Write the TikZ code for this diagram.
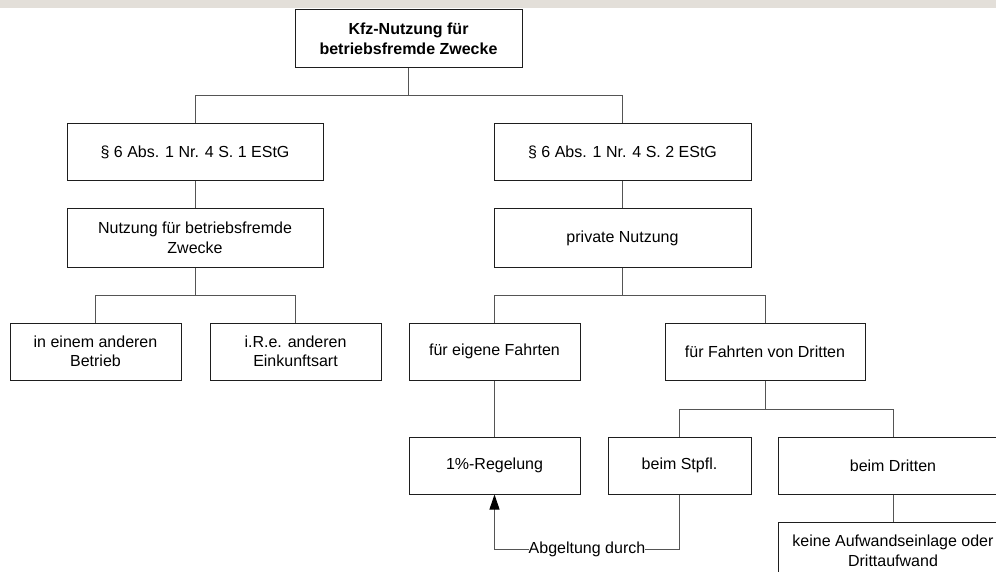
\documentclass[tikz,border=0pt]{standalone}
\usepackage{fontspec}
\setmainfont{Liberation Sans}
\usetikzlibrary{arrows.meta}
\definecolor{band}{RGB}{227,223,217}
\definecolor{boxline}{RGB}{30,30,30}
\definecolor{conline}{RGB}{85,85,85}
\begin{document}
\begin{tikzpicture}[x=1pt,y=-1pt,
  box/.style={draw=boxline, line width=1pt, align=center, inner sep=0pt,
    minimum height=57pt, font=\fontsize{16}{19.5}\selectfont},
  con/.style={draw=conline, line width=1pt},
  lbl/.style={fill=white, inner sep=0pt, font=\fontsize{16}{19.5}\selectfont},
  ]
\useasboundingbox (0,0) rectangle (996,572);
\clip (0,0) rectangle (996,572);
\fill[band] (0,0) rectangle (996,8);

\node[box, minimum width=227pt, minimum height=58pt, font=\fontsize{16}{19.5}\selectfont\bfseries] (top) at (408.5,39)
  {Kfz-Nutzung für\\betriebsfremde Zwecke};
\node[box, minimum width=256pt] (s1) at (195,152.5) {§ 6 Abs. 1 Nr. 4 S. 1 EStG};
\node[box, minimum width=257pt] (s2) at (622.5,152.5) {§ 6 Abs. 1 Nr. 4 S. 2 EStG};
\node[box, minimum width=256pt, minimum height=58pt] (nbz) at (195,238) {Nutzung für betriebsfremde\\Zwecke};
\node[box, minimum width=257pt, minimum height=58pt] (priv) at (622.5,238) {private Nutzung};
\node[box, minimum width=171pt] (betr) at (95.5,351.5) {in einem anderen\\Betrieb};
\node[box, minimum width=171pt] (ire) at (295.5,351.5) {i.R.e. anderen\\Einkunftsart};
\node[box, minimum width=171pt] (eig) at (494.5,351.5) {für eigene Fahrten};
\node[box, minimum width=200pt] (dri) at (765,351.5) {für Fahrten von Dritten};
\node[box, minimum width=171pt] (regel) at (494.5,465.5) {1\%-Regelung};
\node[box, minimum width=143pt] (stpfl) at (679.5,465.5) {beim Stpfl.};
\node[box, minimum width=230pt] (bdr) at (893,465.5) {beim Dritten};
\node[box, minimum width=230pt, minimum height=58pt] (keine) at (893,551) {keine Aufwandseinlage oder\\Drittaufwand};

\coordinate (j1) at (408.5,96);
\coordinate (j2) at (195,295);
\coordinate (j3) at (622.5,295);
\coordinate (j4) at (765,409);
\coordinate (a1) at (679.5,549);
\coordinate (a2) at (494.5,549);

\draw[con] (top.south) -- (j1);
\draw[con] (j1) -| (s1.north);
\draw[con] (j1) -| (s2.north);
\draw[con] (s1.south) -- (nbz.north);
\draw[con] (s2.south) -- (priv.north);
\draw[con] (nbz.south) -- (j2);
\draw[con] (j2) -| (betr.north);
\draw[con] (j2) -| (ire.north);
\draw[con] (priv.south) -- (j3);
\draw[con] (j3) -| (eig.north);
\draw[con] (j3) -| (dri.north);
\draw[con] (eig.south) -- (regel.north);
\draw[con] (dri.south) -- (j4);
\draw[con] (j4) -| (stpfl.north);
\draw[con] (j4) -| (bdr.north);
\draw[con] (bdr.south) -- (keine.north);
\draw[con, -{Triangle[length=15pt,width=10pt,color=black]}] (stpfl.south) -- (a1)
  -- node[lbl] {Abgeltung durch} (a2) -- (regel.south);
\end{tikzpicture}
\end{document}
